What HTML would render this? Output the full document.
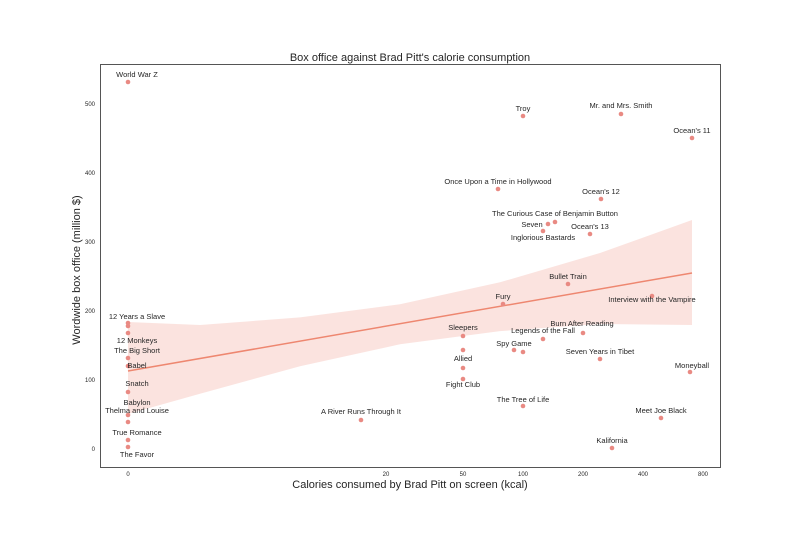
<!DOCTYPE html>
<html><head><style>body{margin:0;background:#fff}svg{display:block}text{font-family:"Liberation Sans",Arial,sans-serif;fill:#262626}</style></head><body>
<svg width="800" height="533" xmlns="http://www.w3.org/2000/svg">
<rect width="800" height="533" fill="#fff"/>
<polygon points="128,322 200,325 300,317.4 400,304.3 500,282.3 600,253 692,220 692,325 600,324 500,331.1 400,344.3 300,366.2 200,393.8 128,414" fill="#fbe0db" opacity="0.9"/>
<line x1="128" y1="371" x2="692" y2="273" stroke="#ee8770" stroke-width="1.5"/>
<rect x="100.5" y="64.5" width="620" height="403" fill="none" stroke="#555" stroke-width="1"/>
<text x="410" y="61" font-size="11" text-anchor="middle">Box office against Brad Pitt's calorie consumption</text>
<text x="410" y="488" font-size="11" text-anchor="middle">Calories consumed by Brad Pitt on screen (kcal)</text>
<text transform="translate(80,270) rotate(-90)" font-size="11" text-anchor="middle">Wordwide box office (million $)</text>
<g font-size="6" fill="#555" text-anchor="end">
<text x="95" y="106">500</text><text x="95" y="175">400</text><text x="95" y="244">300</text><text x="95" y="313">200</text><text x="95" y="382">100</text><text x="95" y="451">0</text></g>
<g font-size="6" fill="#555" text-anchor="middle">
<text x="128" y="476">0</text><text x="386" y="476">20</text><text x="463" y="476">50</text><text x="523" y="476">100</text><text x="583" y="476">200</text><text x="643" y="476">400</text><text x="703" y="476">800</text></g>
<g fill="#e98a83">
<circle cx="128" cy="82" r="2.3"/><circle cx="523" cy="116" r="2.3"/><circle cx="621" cy="114" r="2.3"/><circle cx="692" cy="138" r="2.3"/>
<circle cx="498" cy="189" r="2.3"/><circle cx="601" cy="199" r="2.3"/><circle cx="555" cy="222" r="2.3"/><circle cx="548" cy="224" r="2.3"/>
<circle cx="543" cy="231" r="2.3"/><circle cx="590" cy="234" r="2.3"/><circle cx="568" cy="284" r="2.3"/><circle cx="503" cy="304" r="2.3"/>
<circle cx="652" cy="296" r="2.3"/><circle cx="128" cy="323" r="2.3"/><circle cx="128" cy="326" r="2.3"/><circle cx="463" cy="336" r="2.3"/>
<circle cx="583" cy="333" r="2.3"/><circle cx="543" cy="339" r="2.3"/><circle cx="128" cy="333" r="2.3"/><circle cx="514" cy="350" r="2.3"/>
<circle cx="523" cy="352" r="2.3"/><circle cx="128" cy="358" r="2.3"/><circle cx="463" cy="350" r="2.3"/><circle cx="463" cy="368" r="2.3"/>
<circle cx="600" cy="359" r="2.3"/><circle cx="128" cy="366" r="2.3"/><circle cx="690" cy="372" r="2.3"/><circle cx="463" cy="379" r="2.3"/>
<circle cx="128" cy="392" r="2.3"/><circle cx="128" cy="415" r="2.3"/><circle cx="128" cy="422" r="2.3"/><circle cx="523" cy="406" r="2.3"/>
<circle cx="361" cy="420" r="2.3"/><circle cx="661" cy="418" r="2.3"/><circle cx="128" cy="440" r="2.3"/><circle cx="612" cy="448" r="2.3"/><circle cx="128" cy="447" r="2.3"/>
</g>
<g font-size="7.5" text-anchor="middle">
<text x="137" y="77">World War Z</text><text x="523" y="111">Troy</text><text x="621" y="108">Mr. and Mrs. Smith</text><text x="692" y="133">Ocean's 11</text>
<text x="498" y="184">Once Upon a Time in Hollywood</text><text x="601" y="194">Ocean's 12</text><text x="555" y="216">The Curious Case of Benjamin Button</text>
<text x="532" y="227">Seven</text><text x="590" y="229">Ocean's 13</text><text x="543" y="240">Inglorious Bastards</text><text x="568" y="279">Bullet Train</text>
<text x="503" y="299">Fury</text><text x="652" y="302">Interview with the Vampire</text><text x="137" y="319">12 Years a Slave</text>
<text x="463" y="330">Sleepers</text><text x="582" y="326">Burn After Reading</text><text x="543" y="333">Legends of the Fall</text>
<text x="137" y="343">12 Monkeys</text><text x="514" y="346">Spy Game</text><text x="137" y="353">The Big Short</text><text x="463" y="361">Allied</text>
<text x="600" y="354">Seven Years in Tibet</text><text x="137" y="368">Babel</text><text x="692" y="368">Moneyball</text><text x="463" y="387">Fight Club</text>
<text x="137" y="386">Snatch</text><text x="137" y="405">Babylon</text><text x="137" y="413">Thelma and Louise</text><text x="523" y="402">The Tree of Life</text>
<text x="361" y="414">A River Runs Through It</text><text x="661" y="413">Meet Joe Black</text><text x="137" y="435">True Romance</text>
<text x="612" y="443">Kalifornia</text><text x="137" y="457">The Favor</text>
</g>
</svg>
</body></html>
